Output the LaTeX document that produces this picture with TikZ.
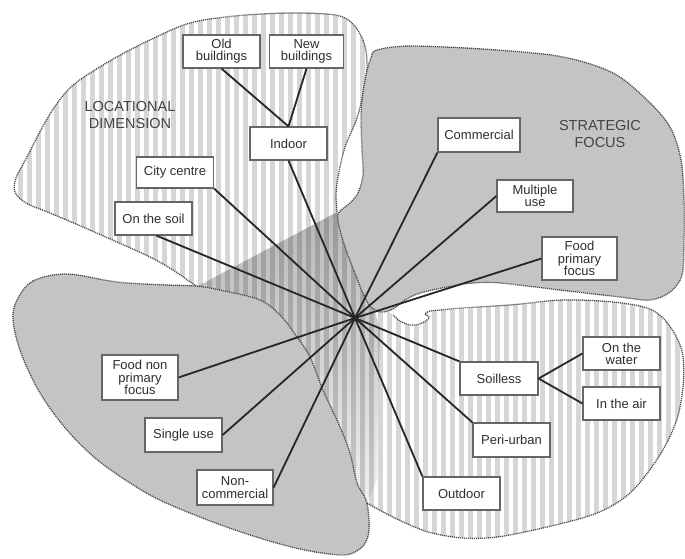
\documentclass[tikz,border=0pt]{standalone}
\usepackage{fontspec}
\setmainfont{Liberation Sans}
\usetikzlibrary{fadings}

\definecolor{lobegray}{HTML}{C4C4C4}
\definecolor{stripegray}{HTML}{D6D6D6}
\definecolor{rimcol}{HTML}{474747}
\definecolor{linkcol}{HTML}{262626}
\definecolor{boxline}{HTML}{666666}
\definecolor{textcol}{HTML}{2E2E2E}

\tikzfading[name=bandfade, top color=transparent!72, bottom color=transparent!94]

\tikzset{
  rim/.style={draw=rimcol, line width=1.3pt, dash pattern=on 1.1pt off 0.9pt},
  link/.style={draw=linkcol, line width=1.8pt},
  tag/.style={draw=boxline, fill=white, line width=1.2pt, text=textcol, align=center,
    inner sep=1pt, minimum width=77pt, minimum height=33pt,
    font=\fontsize{13}{12.2}\selectfont},
  dimlabel/.style={text=textcol!90, align=center, font=\fontsize{14.5}{17}\selectfont},
  curvy/.style={smooth, tension=0.55},
}

\begin{document}
\begin{tikzpicture}[x=1pt, y=-1pt]
\useasboundingbox (0,0) rectangle (685,558);
\fill[white] (0,0) rectangle (685,558);

% vertical stripes of the locational dimension (both striped lobes, joined under the grey lobes)
\begin{scope}
  \clip plot[curvy] coordinates {(337,212) (336,195) (338,177) (345,147) (357,118) (365,85) (367,60) (363,40) (352,23) (335,15) (290,13) (235,16) (190,23) (152,39) (115,58) (77,82) (58,102) (42,128) (27,157) (16,178) (15,192) (26,203) (50,213) (83,227) (117,242) (150,257) (173,270) (196,286)}
    -- (250,320) -- (320,420)
    -- plot[curvy] coordinates {(367,503) (387,514) (410,525) (432,533) (463,538) (497,537) (547,527) (597,513) (630,493) (658,458) (676,422) (683,387) (683,357) (677,338) (664,319) (647,308) (613,302) (563,300) (510,305) (462,308) (440,310) (430,311) (425,314) (429,317) (427,320) (420,324) (410,325) (400,321) (393,315)}
    -- (372,300) -- cycle;
  \foreach \sx in {0,9,...,693} {
    \fill[stripegray] (\sx,0) rectangle (\sx+4.5,558);
  }
  % shaded band of the strategic focus crossing the centre
  \fill[black, path fading=bandfade] (196,287) -- (337,212) -- (372,300) -- (380,330)
    -- (378,400) -- (377,480) -- (367,503) -- (320,420) -- (250,320) -- cycle;
\end{scope}

% dotted rims of the striped lobes
\draw[rim] plot[curvy] coordinates {(337,212) (336,195) (338,177) (345,147) (357,118) (365,85) (367,60) (363,40) (352,23) (335,15) (290,13) (235,16) (190,23) (152,39) (115,58) (77,82) (58,102) (42,128) (27,157) (16,178) (15,192) (26,203) (50,213) (83,227) (117,242) (150,257) (173,270) (196,286)};
\draw[rim] plot[curvy] coordinates {(367,503) (387,514) (410,525) (432,533) (463,538) (497,537) (547,527) (597,513) (630,493) (658,458) (676,422) (683,387) (683,357) (677,338) (664,319) (647,308) (613,302) (563,300) (510,305) (462,308) (440,310) (430,311) (425,314) (429,317) (427,320) (420,324) (410,325) (400,321) (393,315)};

% grey lobes of the strategic focus
\filldraw[rim, fill=lobegray] plot[smooth cycle, tension=0.55] coordinates {(377,50) (413,46) (497,50) (563,57) (613,73) (647,100) (670,127) (681,160) (684,200) (684,240) (682,275) (670,292) (650,300) (620,297) (560,290) (500,283) (473,283) (447,287) (420,293) (405,300) (393,309) (381,312) (370,306) (362,291) (354,271) (346,250) (340,230) (338,214) (350,203) (358,193) (363,175) (362,150) (361,120) (362,100) (366,75) (371,58)};
\filldraw[rim, fill=lobegray] plot[smooth cycle, tension=0.55] coordinates {(17,300) (33,281) (67,274) (117,282) (167,285) (196,286) (220,290) (260,300) (281,316) (297,337) (310,357) (323,390) (340,427) (350,453) (357,483) (366,500) (369,520) (368,536) (361,548) (343,555) (300,549) (250,535) (200,517) (150,495) (100,462) (67,430) (40,393) (21,353) (13,320)};

\node[dimlabel] (locdim) at (130,115) {LOCATIONAL\\DIMENSION};
\node[dimlabel] (strat) at (600,134) {STRATEGIC\\FOCUS};

\coordinate (hub) at (355,318);

\node[tag] (old) at (221.5,51.5) {Old\\buildings};
\node[tag, minimum width=74pt] (new) at (306.5,51.5) {New\\buildings};
\node[tag] (indoor) at (288.5,143.5) {Indoor};
\node[tag, minimum height=31pt] (city) at (175,172.5) {City centre};
\node[tag] (soil) at (153.5,218.5) {On the soil};
\node[tag, minimum width=82pt, minimum height=34pt] (commercial) at (479,135) {Commercial};
\node[tag, minimum width=76pt, minimum height=32pt] (multi) at (535,196) {Multiple\\use};
\node[tag, minimum width=75pt, minimum height=43pt] (foodprim) at (579.5,258.5) {Food\\primary\\focus};
\node[tag, minimum width=76pt, minimum height=45pt] (foodnon) at (140,377.5) {Food non\\primary\\focus};
\node[tag, minimum height=34pt] (single) at (183.5,435) {Single use};
\node[tag, minimum width=76pt, minimum height=35pt] (noncom) at (235,487.5) {Non-\\commercial};
\node[tag, minimum width=78pt] (soilless) at (499,378.5) {Soilless};
\node[tag] (water) at (621.5,353.5) {On the\\water};
\node[tag] (air) at (621.5,403.5) {In the air};
\node[tag, minimum height=34pt] (peri) at (511.5,440) {Peri-urban};
\node[tag] (outdoor) at (461.5,493.5) {Outdoor};

% spokes from the hub and the two sub-branches
\draw[link] (hub) -- (indoor.south);
\draw[link] (hub) -- (city.south east);
\draw[link] (hub) -- ([xshift=3pt]soil.south);
\draw[link] (hub) -- (commercial.south west);
\draw[link] (hub) -- (multi.west);
\draw[link] (hub) -- (foodprim.west);
\draw[link] (hub) -- (foodnon.east);
\draw[link] (hub) -- (single.east);
\draw[link] (hub) -- (noncom.east);
\draw[link] (hub) -- (soilless.north west);
\draw[link] (hub) -- (peri.north west);
\draw[link] (hub) -- (outdoor.north west);
\draw[link] (old.south) -- (indoor.north);
\draw[link] (new.south) -- (indoor.north);
\draw[link] (soilless.east) -- (water.west);
\draw[link] (soilless.east) -- (air.west);
\end{tikzpicture}
\end{document}
